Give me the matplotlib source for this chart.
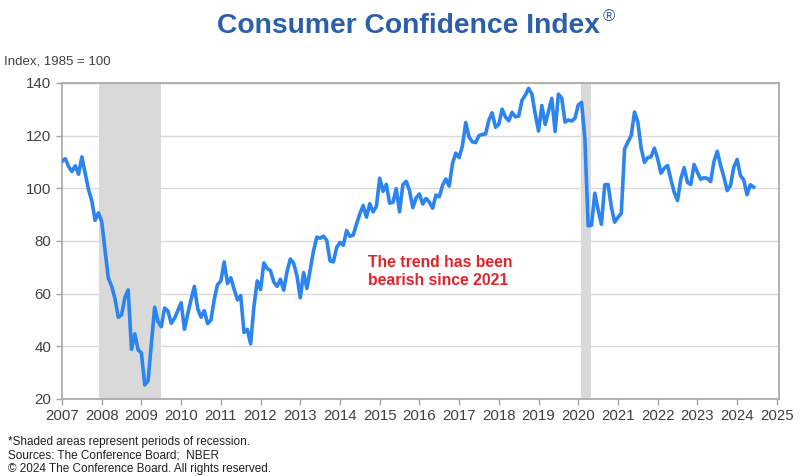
import numpy as np
import matplotlib.pyplot as plt

plt.rcParams['font.family'] = ['Liberation Sans', 'DejaVu Sans']

# monthly index values, Jan 2007 .. Jun 2024
cci = [
    110.2, 111.2, 108.2, 106.3, 108.5, 105.3, 111.9, 105.6, 99.5, 95.2, 87.8, 90.6,   # 2007
    87.3, 76.4, 65.9, 62.8, 58.1, 51.0, 51.9, 58.5, 61.4, 38.8, 44.7, 38.6,          # 2008
    37.4, 25.3, 26.9, 40.8, 54.8, 49.3, 47.4, 54.5, 53.4, 48.7, 50.6, 53.6,          # 2009
    56.5, 46.4, 52.3, 57.7, 62.7, 54.3, 51.0, 53.5, 48.6, 49.9, 57.8, 63.4,          # 2010
    64.8, 72.0, 63.8, 66.0, 61.7, 57.6, 59.2, 45.2, 46.4, 40.9, 55.2, 64.8,          # 2011
    61.5, 71.6, 69.5, 68.7, 64.4, 62.7, 65.4, 61.3, 68.4, 73.1, 71.5, 66.7,          # 2012
    58.4, 68.0, 61.9, 69.0, 76.2, 81.4, 81.0, 81.8, 80.2, 72.4, 72.0, 77.5,          # 2013
    79.4, 78.3, 83.9, 81.7, 82.2, 86.4, 90.3, 93.4, 89.0, 94.1, 91.0, 93.1,          # 2014
    103.8, 98.8, 101.4, 94.3, 94.6, 99.8, 91.0, 101.3, 102.6, 99.1, 92.6, 96.3,      # 2015
    97.8, 94.0, 96.1, 94.7, 92.4, 97.4, 96.7, 101.1, 103.5, 100.8, 109.4, 113.3,     # 2016
    111.6, 116.1, 124.9, 119.4, 117.6, 117.3, 120.0, 120.4, 120.6, 125.9, 128.6, 123.1,  # 2017
    124.3, 130.0, 127.0, 125.6, 128.8, 127.1, 127.4, 133.4, 135.3, 137.9, 135.7, 128.1,  # 2018
    121.7, 131.4, 124.2, 129.2, 134.1, 121.5, 135.7, 134.2, 125.1, 125.9, 125.5, 126.5,  # 2019
    131.6, 132.6, 118.8, 85.7, 85.9, 98.1, 91.7, 86.3, 101.3, 101.4, 92.9, 87.1,     # 2020
    88.9, 90.4, 114.9, 117.5, 120.0, 128.9, 125.1, 115.2, 109.8, 111.6, 111.9, 115.2,  # 2021
    111.1, 105.7, 107.6, 108.6, 103.2, 98.4, 95.3, 103.6, 107.8, 102.2, 101.4, 109.0,  # 2022
    106.0, 103.4, 104.0, 103.7, 102.5, 110.1, 114.0, 108.7, 104.3, 99.1, 101.0, 108.0,  # 2023
    110.9, 104.8, 103.1, 97.5, 101.3, 100.4,                                         # 2024
]
t = 2007 + np.arange(len(cci)) / 12

recessions = [(2007.92, 2009.5), (2020.08, 2020.33)]
years = list(range(2007, 2026))
yticks = [20, 40, 60, 80, 100, 120, 140]

fig = plt.figure(figsize=(8, 4.76), dpi=100)
ax = fig.add_axes([0.0775, 0.162, 0.896, 0.664])

for a, b in recessions:
    ax.axvspan(a, b, color='#D9D9D9', lw=0, zorder=0)

ax.plot(t, cci, color='#2B84F0', lw=2.6, zorder=3, solid_joinstyle='round')

ax.set_xlim(2007, 2025.05)
ax.set_ylim(20, 140)
ax.set_xticks(years)
ax.set_yticks(yticks)
ax.grid(axis='y', color='#D9D9D9', lw=1, zorder=1)
ax.set_axisbelow(True)
for s in ax.spines.values():
    s.set_color('#A6A6A6')
    s.set_linewidth(1.2)
ax.tick_params(colors='#A6A6A6', labelcolor='#404040', labelsize=10.8, length=4, width=1)

ax.text(2014.7, 68.5, 'The trend has been\nbearish since 2021', color='#E0242B',
        fontsize=11.3, fontweight='bold', ha='left', va='center', linespacing=1.25)

fig.text(0.75, 0.93, 'Consumer Confidence Index', ha='right', va='baseline',
         fontsize=20.3, fontweight='bold', color='#2B5FAB')
fig.text(0.754, 0.955, '®', ha='left', va='baseline', fontsize=12, color='#2B5FAB')

fig.text(0.005, 0.87, 'Index, 1985 = 100', fontsize=9.5, color='#404040', va='center')

foot = ('*Shaded areas represent periods of recession.\n'
        'Sources: The Conference Board;  NBER\n'
        '© 2024 The Conference Board. All rights reserved.')
fig.text(0.01, 0.002, foot, fontsize=8.5, color='#202020', va='bottom', linespacing=1.15)

fig.savefig('out.png', dpi=100)
